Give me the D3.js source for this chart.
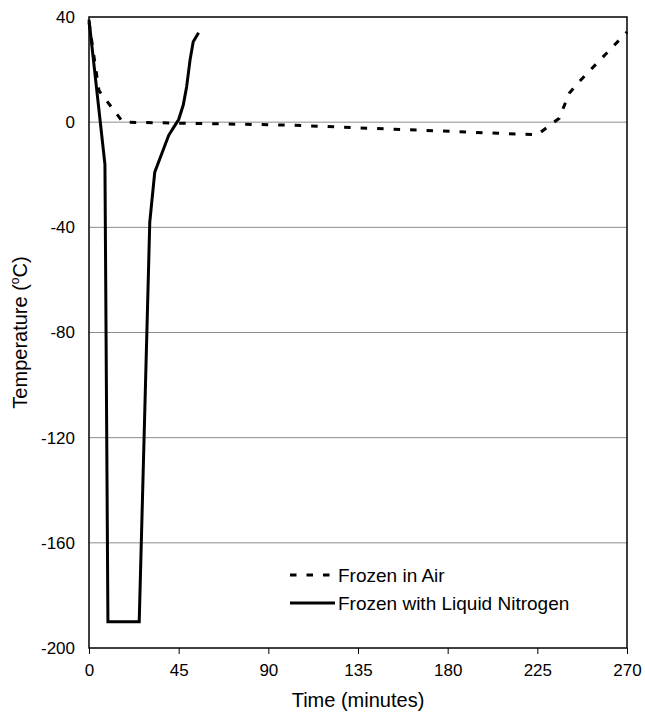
<!DOCTYPE html>
<html>
<head>
<meta charset="utf-8">
<script src="https://cdn.jsdelivr.net/npm/d3@7"></script>
<style>
  body { margin: 0; background: #fff; }
  text { font-family: "Liberation Sans", Arial, sans-serif; fill: #000; }
</style>
</head>
<body>
<div id="chart"></div>
<script>
// frozen in air (dashed)
const timeAir = [0, 5, 17, 100, 225, 236, 241, 246, 270]
const tempAir = [38, 12, 0, -1.1, -4.8, 1.5, 11, 15.4, 34.3]
// frozen with liquid nitrogen (solid)
const timeN2 = [0, 8, 9.5, 25.2, 30.5, 33, 36.5, 40, 42.5, 45, 47.3, 49, 50.7, 52.3, 55]
const tempN2 = [39, -16, -190, -190, -38, -19, -12, -5, -2, 1, 6.5, 13.5, 23.6, 30.6, 34]
const xTicks = [0, 45, 90, 135, 180, 225, 270]
const yTicks = [40, 0, -40, -80, -120, -160, -200]
const seriesNames = ["Frozen in Air", "Frozen with Liquid Nitrogen"]

const anchoTotal = 645
const altoTotal = 712
const margins = { top: 17, right: 18, bottom: 64, left: 89 }
const ancho = anchoTotal - margins.left - margins.right
const alto = altoTotal - margins.top - margins.bottom

const svg = d3.select("#chart")
  .append("svg")
  .attr("width", anchoTotal)
  .attr("height", altoTotal)

const g = svg.append("g")
  .attr("transform", `translate(${margins.left}, ${margins.top})`)

const x = d3.scaleLinear().domain([0, 270]).range([0, ancho])
const y = d3.scaleLinear().domain([-200, 40]).range([alto, 0])

// gridlines
g.selectAll("line.grid")
  .data(yTicks.filter((d) => d !== 40 && d !== -200))
  .enter()
  .append("line")
  .attr("class", "grid")
  .attr("x1", 0)
  .attr("x2", ancho)
  .attr("y1", (d) => y(d))
  .attr("y2", (d) => y(d))
  .attr("stroke", "#8c8c8c")
  .attr("stroke-width", 1)

// x axis
const xAxis = d3.axisBottom(x).tickValues(xTicks).tickSize(6).tickPadding(6)
  .tickFormat((d) => String(d))
const xg = g.append("g")
  .attr("transform", `translate(0, ${alto})`)
  .call(xAxis)
xg.select(".domain").remove()
xg.selectAll("line").attr("stroke", "#000").attr("stroke-width", 1)
xg.selectAll("text")
  .attr("font-size", 17)
  .attr("font-family", "Liberation Sans, Arial, sans-serif")
  .attr("dy", "0.95em")

// y axis
const yAxis = d3.axisLeft(y).tickValues(yTicks).tickSize(0).tickPadding(14)
  .tickFormat((d) => String(d))
const yg = g.append("g").call(yAxis)
yg.select(".domain").remove()
yg.selectAll("text")
  .attr("font-size", 17)
  .attr("font-family", "Liberation Sans, Arial, sans-serif")

// frame
g.append("rect")
  .attr("width", ancho)
  .attr("height", alto)
  .attr("fill", "none")
  .attr("stroke", "#000")
  .attr("stroke-width", 1.5)

const line = d3.line()
  .x((d) => x(d[0]))
  .y((d) => y(d[1]))

const airData = d3.zip(timeAir, tempAir)
const n2Data = d3.zip(timeN2, tempN2)

g.append("path")
  .datum(airData)
  .attr("d", line)
  .attr("fill", "none")
  .attr("stroke", "#000")
  .attr("stroke-width", 3)
  .attr("stroke-dasharray", "6.5,10")

g.append("path")
  .datum(n2Data)
  .attr("d", line)
  .attr("fill", "none")
  .attr("stroke", "#000")
  .attr("stroke-width", 3)
  .attr("stroke-linejoin", "miter")

// legend
const legend = svg.append("g").attr("transform", "translate(290, 575)")
seriesNames.forEach((name, i) => {
  const row = legend.append("g").attr("transform", `translate(0, ${i * 28})`)
  row.append("line")
    .attr("x1", 0)
    .attr("x2", i === 0 ? 40 : 45)
    .attr("y1", 0)
    .attr("y2", 0)
    .attr("stroke", "#000")
    .attr("stroke-width", 3)
    .attr("stroke-dasharray", i === 0 ? "6.5,10" : null)
  row.append("text")
    .attr("x", 48)
    .attr("y", 6.5)
    .attr("font-size", 19)
    .text(name)
})

// axis titles
svg.append("text")
  .attr("x", margins.left + ancho / 2)
  .attr("y", 707)
  .attr("text-anchor", "middle")
  .attr("font-size", 20)
  .text("Time (minutes)")

const yt = svg.append("text")
  .attr("transform", `translate(27, ${margins.top + alto / 2}) rotate(-90)`)
  .attr("text-anchor", "middle")
  .attr("font-size", 20)
yt.append("tspan").text("Temperature (")
yt.append("tspan").attr("font-size", 12).attr("dy", -8).text("o")
yt.append("tspan").attr("dy", 8).text("C)")
</script>
</body>
</html>
